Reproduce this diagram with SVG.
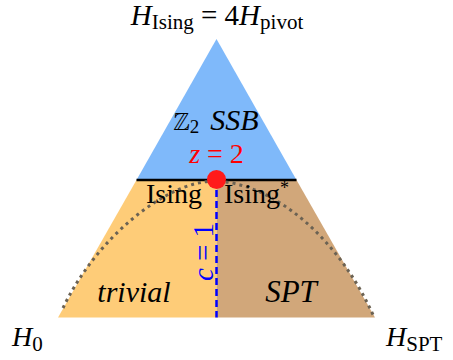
<svg xmlns="http://www.w3.org/2000/svg" width="453" height="360" viewBox="0 0 453 360">
<style>
text{font-family:"Liberation Serif","Times New Roman",Tinos,"Nimbus Roman","Nimbus Roman No9 L",FreeSerif,"Noto Serif","DejaVu Serif",serif;fill:#000}
.it{font-style:italic}
.sub{font-size:21px}
</style>
<rect width="453" height="360" fill="#fff"/>
<g id="ssb">
<polygon points="216.5,39 136.5,180 296.5,180" fill="#7fb9fa"/>
<text x="216" y="130" text-anchor="middle" font-size="30"><tspan font-size="26">ℤ</tspan><tspan font-size="19" dy="3">2</tspan><tspan dy="-3" class="it" dx="11">SSB</tspan></text>
<text x="216.5" y="163" text-anchor="middle" font-size="28" style="fill:#ff0000"><tspan class="it">z</tspan> = 2</text>
</g>
<g id="trivial">
<polygon points="136.5,180 216.5,180 216.5,317.5 58,317.5" fill="#fecc78"/>
<text x="134" y="302" text-anchor="middle" font-size="30" class="it">trivial</text>
</g>
<g id="spt">
<polygon points="216.5,180 296.5,180 375,317.5 216.5,317.5" fill="#d1a77a"/>
<text x="291" y="302" text-anchor="middle" font-size="31" class="it">SPT</text>
</g>
<g id="connectors">
<line x1="136.5" y1="180" x2="296.5" y2="180" stroke="#000" stroke-width="2.5"/>
<path d="M63,308 C95,240 165,181 215,181 C275,183 340,240 374,317" fill="none" stroke="#6b6253" stroke-width="3" stroke-dasharray="3 4"/>
<line x1="216.5" y1="190" x2="216.5" y2="317.5" stroke="#0000ff" stroke-width="2.5" stroke-dasharray="7 4"/>
</g>
<g id="critical">
<circle cx="216.5" cy="179.5" r="9.5" fill="#ff1a1a"/>
<text x="174" y="203" text-anchor="middle" font-size="28">Ising</text>
<text x="224" y="203" font-size="28">Ising<tspan font-size="18" dy="-9">*</tspan></text>
<text transform="translate(213,252) rotate(-90)" text-anchor="middle" font-size="29" style="fill:#0000ff"><tspan class="it">c</tspan> = 1</text>
</g>
<g id="h-ising">
<text x="217" y="25" text-anchor="middle" font-size="29"><tspan class="it">H</tspan><tspan class="sub" dy="4">Ising</tspan><tspan dy="-4"> = 4</tspan><tspan class="it">H</tspan><tspan class="sub" dy="4">pivot</tspan></text>
</g>
<g id="h0">
<text x="12" y="346" font-size="28"><tspan class="it">H</tspan><tspan class="sub" dy="5">0</tspan></text>
</g>
<g id="hspt">
<text x="386" y="346" font-size="28"><tspan class="it">H</tspan><tspan class="sub" dy="5">SPT</tspan></text>
</g>
</svg>
